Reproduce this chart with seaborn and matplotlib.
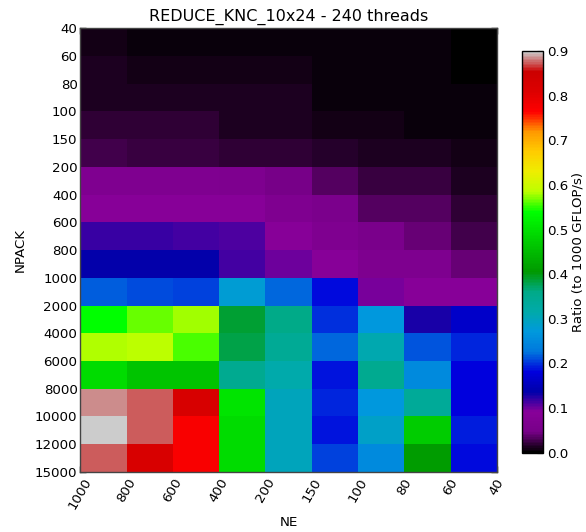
import numpy as np
import pandas as pd
import seaborn as sns
import matplotlib.pyplot as plt

ne = [1000, 800, 600, 400, 200, 150, 100, 80, 60, 40]
npack = [40, 60, 80, 100, 150, 200, 400, 600, 800, 1000,
         2000, 4000, 6000, 8000, 10000, 12000, 15000]

# ratio to 1000 GFLOP/s, one row per NPACK interval, one column per NE interval
ratio = [
    [0.008, 0.007, 0.007, 0.004, 0.004, 0.004, 0.004, 0.004, 0.001],
    [0.011, 0.008, 0.008, 0.008, 0.008, 0.004, 0.004, 0.004, 0.000],
    [0.013, 0.011, 0.011, 0.011, 0.011, 0.007, 0.007, 0.007, 0.005],
    [0.019, 0.018, 0.018, 0.014, 0.014, 0.010, 0.010, 0.007, 0.005],
    [0.027, 0.024, 0.024, 0.021, 0.021, 0.017, 0.014, 0.011, 0.008],
    [0.069, 0.069, 0.069, 0.064, 0.048, 0.033, 0.024, 0.024, 0.013],
    [0.090, 0.090, 0.090, 0.090, 0.069, 0.058, 0.035, 0.035, 0.020],
    [0.119, 0.119, 0.114, 0.111, 0.090, 0.069, 0.054, 0.042, 0.027],
    [0.137, 0.137, 0.137, 0.116, 0.101, 0.090, 0.064, 0.064, 0.039],
    [0.216, 0.210, 0.204, 0.280, 0.221, 0.186, 0.098, 0.090, 0.090],
    [0.540, 0.565, 0.577, 0.390, 0.360, 0.199, 0.270, 0.130, 0.165],
    [0.581, 0.585, 0.556, 0.381, 0.344, 0.220, 0.310, 0.212, 0.195],
    [0.495, 0.462, 0.462, 0.350, 0.315, 0.188, 0.350, 0.253, 0.180],
    [0.885, 0.872, 0.823, 0.504, 0.300, 0.195, 0.270, 0.340, 0.180],
    [0.900, 0.875, 0.770, 0.495, 0.300, 0.188, 0.290, 0.472, 0.190],
    [0.872, 0.820, 0.770, 0.495, 0.300, 0.204, 0.253, 0.410, 0.183],
]

df = pd.DataFrame(ratio)

sns.set_style('ticks')
plt.rcParams['font.family'] = ['DejaVu Sans']
plt.rcParams['xtick.direction'] = 'in'
plt.rcParams['ytick.direction'] = 'in'
for k in ['text.color', 'axes.labelcolor', 'xtick.color', 'ytick.color']:
    plt.rcParams[k] = 'black'

fig = plt.figure(figsize=(5.86, 5.32), dpi=100)
ax = fig.add_axes([0.137, 0.113, 0.711, 0.834])
cax = fig.add_axes([0.891, 0.149, 0.036, 0.755])

sns.heatmap(df, cmap='nipy_spectral', vmin=0, vmax=0.9, ax=ax, cbar_ax=cax,
            xticklabels=False, yticklabels=False)

# ticks sit on the cell edges
ax.set_xticks(np.arange(len(ne)))
ax.set_xticklabels(ne, rotation=60, ha='center', fontsize=9.6)
ax.set_yticks(np.arange(len(npack)))
ax.set_yticklabels(npack, rotation=0, fontsize=9.6)
ax.tick_params(top=True, right=True, length=4, width=1, color='black')
ax.tick_params(axis='y', pad=2)
ax.tick_params(axis='x', pad=3)
for s in ax.spines.values():
    s.set_visible(True)
    s.set_color('#444444')
    s.set_linewidth(1)

ax.set_xlabel('NE', fontsize=9.6, labelpad=3)
ax.set_ylabel('NPACK', fontsize=9.6, labelpad=6)
ax.set_title('REDUCE_KNC_10x24 - 240 threads', fontsize=11.5, pad=5)

cb = ax.collections[0].colorbar
cb.set_ticks(np.arange(0, 0.91, 0.1))
cb.set_ticklabels(['%.1f' % t for t in np.arange(0, 0.91, 0.1)])
cb.outline.set_linewidth(1)
cb.outline.set_edgecolor('black')
cax.tick_params(labelsize=9.6, length=4, direction='in', color='black', pad=3)
cb.set_label('Ratio (to 1000 GFLOP/s)', fontsize=9.6, labelpad=2)

plt.savefig('out.png', dpi=100)
